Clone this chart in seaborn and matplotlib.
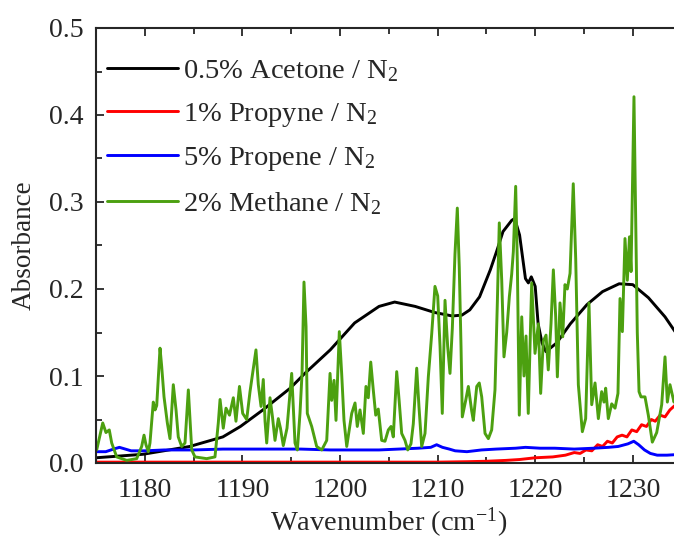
import numpy as np
import pandas as pd
import matplotlib
matplotlib.use("Agg")
import matplotlib.pyplot as plt
from matplotlib.ticker import MultipleLocator, FormatStrFormatter
import seaborn as sns

# estilo
sns.set_style("ticks")
plt.rcParams['font.family'] = ['Liberation Serif', 'DejaVu Serif']
plt.rcParams['mathtext.fontset'] = 'custom'
plt.rcParams['mathtext.rm'] = 'Liberation Serif'
plt.rcParams['mathtext.default'] = 'regular'

# ---------------- dados ----------------
acetone_x = [1175.0, 1179.8, 1184.6, 1188.0, 1189.8, 1192.1, 1194.9, 1196.4, 1199.0, 1201.5,
             1204.0, 1205.6, 1207.7, 1209.7, 1211.5, 1212.5, 1213.3, 1214.3, 1215.4, 1216.1,
             1216.7, 1217.6, 1217.9, 1218.4, 1219.0, 1219.3, 1219.6, 1220.0, 1220.3, 1220.7,
             1221.1, 1222.2, 1223.6, 1225.3, 1226.9, 1228.6, 1230.0, 1231.6, 1233.3, 1235.0]
acetone_y = [0.006, 0.010, 0.019, 0.030, 0.042, 0.061, 0.086, 0.103, 0.130, 0.161,
             0.180, 0.185, 0.180, 0.173, 0.169, 0.170, 0.176, 0.191, 0.222, 0.245,
             0.266, 0.279, 0.281, 0.262, 0.212, 0.207, 0.214, 0.203, 0.160, 0.138,
             0.128, 0.138, 0.160, 0.182, 0.197, 0.206, 0.205, 0.190, 0.168, 0.140]

propyne_x = [1175.0, 1190.0, 1200.0, 1210.0, 1213.0, 1215.0, 1217.0, 1218.4, 1220.0, 1221.8,
             1223.1, 1224.0, 1224.6, 1225.2, 1225.8, 1226.4, 1226.9, 1227.4, 1227.9, 1228.4,
             1228.9, 1229.4, 1229.9, 1230.4, 1230.9, 1231.4, 1231.9, 1232.3, 1232.8, 1233.3,
             1233.8, 1234.3, 1235.0]
propyne_y = [0.001, 0.001, 0.001, 0.001, 0.0015, 0.002, 0.003, 0.004, 0.006, 0.007,
             0.009, 0.012, 0.011, 0.015, 0.014, 0.021, 0.019, 0.025, 0.023, 0.030,
             0.032, 0.030, 0.038, 0.036, 0.044, 0.042, 0.050, 0.048, 0.055, 0.053,
             0.061, 0.066, 0.068]

propene_x = [1175.0, 1176.0, 1176.8, 1177.4, 1178.0, 1178.6, 1180.0, 1182.0, 1185.0, 1188.0,
             1190.0, 1193.0, 1196.0, 1199.0, 1202.0, 1204.0, 1206.0, 1208.0, 1209.3, 1209.9,
             1210.5, 1211.2, 1211.8, 1213.0, 1214.5, 1216.0, 1218.0, 1219.0, 1220.5, 1222.0,
             1224.0, 1226.0, 1227.5, 1228.5, 1229.5, 1230.1, 1230.6, 1231.2, 1231.8, 1232.5,
             1233.5, 1235.0]
propene_y = [0.013, 0.013, 0.016, 0.018, 0.016, 0.014, 0.014, 0.015, 0.015, 0.016,
             0.016, 0.016, 0.016, 0.015, 0.015, 0.015, 0.016, 0.017, 0.018, 0.021,
             0.018, 0.016, 0.014, 0.013, 0.015, 0.016, 0.017, 0.018, 0.017, 0.017,
             0.016, 0.017, 0.018, 0.019, 0.022, 0.025, 0.021, 0.015, 0.011, 0.009,
             0.009, 0.010]

methane_x = [1175.07, 1175.69, 1176.02, 1176.36, 1176.61, 1177.12, 1178.15, 1179.17, 1179.68, 1179.92,
             1180.12, 1180.36, 1180.53, 1180.87, 1181.05, 1181.22, 1181.56, 1181.73, 1181.97, 1182.31,
             1182.58, 1182.92, 1183.20, 1183.43, 1183.78, 1184.12, 1184.46, 1184.81, 1185.14, 1186.34,
             1187.19, 1187.53, 1187.71, 1188.04, 1188.32, 1188.68, 1189.07, 1189.34, 1189.70, 1190.03,
             1190.44, 1190.78, 1191.12, 1191.39, 1191.63, 1191.91, 1192.14, 1192.32, 1192.49, 1192.83,
             1193.08, 1193.34, 1193.68, 1193.90, 1194.19, 1194.57, 1195.05, 1195.39, 1195.63, 1195.90,
             1196.11, 1196.31, 1196.52, 1196.65, 1197.10, 1197.61, 1198.13, 1198.64, 1198.98, 1199.15,
             1199.39, 1199.59, 1199.93, 1200.17, 1200.41, 1200.69, 1201.20, 1201.54, 1201.77, 1202.05,
             1202.39, 1202.66, 1202.90, 1203.15, 1203.41, 1203.66, 1203.92, 1204.27, 1204.61, 1204.95,
             1205.23, 1205.46, 1205.81, 1206.05, 1206.32, 1206.66, 1206.94, 1207.27, 1207.51, 1207.86,
             1208.09, 1208.37, 1208.71, 1209.05, 1209.40, 1209.73, 1210.01, 1210.25, 1210.48, 1210.76,
             1211.03, 1211.27, 1211.51, 1211.78, 1212.02, 1212.22, 1212.40, 1212.53, 1212.88, 1213.15,
             1213.49, 1213.66, 1214.01, 1214.27, 1214.52, 1214.86, 1215.20, 1215.54, 1215.88, 1216.12,
             1216.32, 1216.57, 1216.80, 1217.08, 1217.35, 1217.59, 1217.76, 1218.00, 1218.17, 1218.37,
             1218.62, 1218.85, 1219.06, 1219.29, 1219.64, 1219.98, 1220.32, 1220.56, 1220.83, 1221.11,
             1221.34, 1221.62, 1221.86, 1222.10, 1222.27, 1222.54, 1222.82, 1223.05, 1223.29, 1223.57,
             1223.90, 1224.15, 1224.42, 1224.83, 1225.17, 1225.51, 1225.79, 1226.13, 1226.47, 1226.81,
             1227.05, 1227.22, 1227.49, 1227.84, 1228.18, 1228.48, 1228.69, 1228.93, 1229.20, 1229.44,
             1229.66, 1229.82, 1230.12, 1230.30, 1230.46, 1230.64, 1230.84, 1231.25, 1231.59, 1232.00,
             1232.45, 1232.96, 1233.30, 1233.54, 1233.81, 1234.22, 1234.60]
methane_y = [0.015, 0.046, 0.035, 0.038, 0.023, 0.007, 0.003, 0.005, 0.019, 0.032,
             0.021, 0.013, 0.023, 0.070, 0.061, 0.066, 0.132, 0.111, 0.076, 0.046,
             0.028, 0.090, 0.061, 0.030, 0.019, 0.023, 0.084, 0.015, 0.007, 0.005,
             0.007, 0.046, 0.073, 0.040, 0.063, 0.055, 0.075, 0.048, 0.088, 0.057,
             0.050, 0.082, 0.109, 0.130, 0.090, 0.065, 0.096, 0.048, 0.023, 0.075,
             0.053, 0.026, 0.051, 0.040, 0.020, 0.040, 0.103, 0.023, 0.015, 0.057,
             0.103, 0.208, 0.157, 0.057, 0.042, 0.019, 0.015, 0.026, 0.103, 0.072,
             0.095, 0.049, 0.151, 0.103, 0.049, 0.019, 0.057, 0.069, 0.042, 0.061,
             0.034, 0.088, 0.075, 0.116, 0.084, 0.055, 0.062, 0.026, 0.025, 0.038,
             0.042, 0.030, 0.105, 0.073, 0.034, 0.026, 0.015, 0.022, 0.045, 0.109,
             0.065, 0.019, 0.034, 0.099, 0.149, 0.203, 0.192, 0.134, 0.057, 0.187,
             0.134, 0.103, 0.155, 0.240, 0.293, 0.225, 0.134, 0.053, 0.072, 0.088,
             0.060, 0.049, 0.088, 0.092, 0.076, 0.034, 0.028, 0.038, 0.084, 0.184,
             0.276, 0.210, 0.122, 0.150, 0.191, 0.217, 0.243, 0.318, 0.230, 0.055,
             0.168, 0.100, 0.146, 0.057, 0.207, 0.126, 0.160, 0.080, 0.140, 0.147,
             0.107, 0.160, 0.222, 0.168, 0.099, 0.184, 0.145, 0.205, 0.200, 0.218,
             0.321, 0.235, 0.090, 0.036, 0.051, 0.184, 0.067, 0.092, 0.051, 0.082,
             0.070, 0.086, 0.051, 0.068, 0.063, 0.080, 0.189, 0.151, 0.258, 0.210,
             0.260, 0.220, 0.421, 0.281, 0.150, 0.082, 0.076, 0.076, 0.055, 0.024,
             0.035, 0.067, 0.122, 0.070, 0.090, 0.070, 0.080]

labels = ['0.5% Acetone / N$_2$', '1% Propyne / N$_2$', '5% Propene / N$_2$', '2% Methane / N$_2$']
cores = ['black', '#FF0000', '#0000FF', '#4CA010']

series = [(acetone_x, acetone_y), (propyne_x, propyne_y), (propene_x, propene_y), (methane_x, methane_y)]

# ---------------- figura ----------------
fig = plt.figure(figsize=(6.74, 5.41), dpi=100)
ax = fig.add_axes([96 / 674, 78 / 541, 585.6 / 674, 435 / 541])

for (xs, ys), lab, cor in zip(series, labels, cores):
    df = pd.DataFrame({'x': xs, 'y': ys})
    sns.lineplot(data=df, x='x', y='y', color=cor, label=lab, linewidth=2.1, ax=ax,
                 estimator=None, sort=False)

ax.set_xlim(1175, 1235)
ax.set_ylim(0, 0.5)
ax.xaxis.set_major_locator(MultipleLocator(10))
ax.xaxis.set_minor_locator(MultipleLocator(5))
ax.yaxis.set_major_locator(MultipleLocator(0.1))
ax.yaxis.set_minor_locator(MultipleLocator(0.05))
ax.yaxis.set_major_formatter(FormatStrFormatter('%.1f'))
ax.tick_params(which='both', direction='in', top=True, right=True, labelsize=20, width=1.3)
ax.tick_params(axis='y', pad=9)
ax.tick_params(axis='x', pad=11)
ax.tick_params(which='major', length=6)
ax.tick_params(which='minor', length=4)
for sp in ax.spines.values():
    sp.set_linewidth(1.5)
    sp.set_visible(True)

ax.set_xlabel('Wavenumber (cm$^{-1}$)', fontsize=20.5, labelpad=2)
ax.set_ylabel('Absorbance', fontsize=19.5, labelpad=9)

leg = ax.legend(loc='upper left', frameon=False, fontsize=20.5, handlelength=2.5,
                handletextpad=0.2, labelspacing=0.58, borderaxespad=0, borderpad=0,
                bbox_to_anchor=(0.018, 0.93))
for h in leg.get_lines():
    h.set_linewidth(2.1)

fig.savefig('out.png', dpi=100)
